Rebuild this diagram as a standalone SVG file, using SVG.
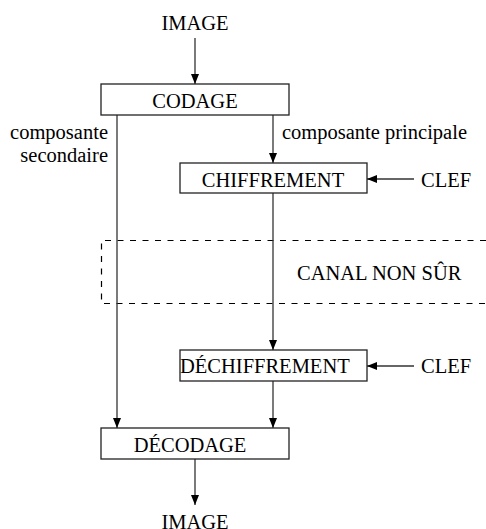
<svg xmlns="http://www.w3.org/2000/svg" width="486" height="529" viewBox="0 0 486 529">
<style>
text{font-family:"Liberation Serif","Times New Roman",serif;font-size:20.5px;fill:#000}
.box{fill:#fff;stroke:#222;stroke-width:1.3}
.ln{fill:none;stroke:#333;stroke-width:1.3}
.dash{fill:none;stroke:#000;stroke-width:1.2;stroke-dasharray:6,6.5}
</style>
<defs>
<marker id="ah" viewBox="0 0 10 8" refX="10" refY="4" markerWidth="10" markerHeight="8" markerUnits="userSpaceOnUse" orient="auto">
<path d="M0,0 L10,4 L0,8 Z" fill="#000"/>
</marker>
</defs>
<g id="canal">
<path class="dash" d="M486,240.5 H101.5 V303.5 H486"/>
<text x="297" y="280">CANAL NON SÛR</text>
</g>
<g id="connectors">
<line class="ln" x1="195" y1="38" x2="195" y2="84" marker-end="url(#ah)"/>
<line class="ln" x1="273" y1="115" x2="273" y2="163" marker-end="url(#ah)"/>
<line class="ln" x1="117" y1="115" x2="117" y2="428" marker-end="url(#ah)"/>
<line class="ln" x1="414" y1="179" x2="367" y2="179" marker-end="url(#ah)"/>
<line class="ln" x1="273" y1="193" x2="273" y2="350" marker-end="url(#ah)"/>
<line class="ln" x1="414" y1="366" x2="367" y2="366" marker-end="url(#ah)"/>
<line class="ln" x1="273" y1="381" x2="273" y2="428" marker-end="url(#ah)"/>
<line class="ln" x1="195" y1="459" x2="195" y2="505" marker-end="url(#ah)"/>
<text x="282" y="139">composante principale</text>
<text x="108" y="139" text-anchor="end">composante</text>
<text x="108" y="162" text-anchor="end">secondaire</text>
</g>
<g id="image-in"><text x="195" y="30" text-anchor="middle">IMAGE</text></g>
<g id="codage">
<rect class="box" x="101" y="84" width="188" height="31"/>
<text x="195" y="108" text-anchor="middle">CODAGE</text>
</g>
<g id="chiffrement">
<rect class="box" x="180" y="163" width="187" height="30"/>
<text x="273" y="187" text-anchor="middle">CHIFFREMENT</text>
</g>
<g id="clef1"><text x="421" y="187">CLEF</text></g>
<g id="dechiffrement">
<rect class="box" x="180" y="350" width="187" height="31"/>
<text x="180" y="373">DÉCHIFFREMENT</text>
</g>
<g id="clef2"><text x="421" y="373">CLEF</text></g>
<g id="decodage">
<rect class="box" x="101" y="428" width="188" height="31"/>
<text x="190" y="452" text-anchor="middle">DÉCODAGE</text>
</g>
<g id="image-out"><text x="195" y="529" text-anchor="middle">IMAGE</text></g>
</svg>
